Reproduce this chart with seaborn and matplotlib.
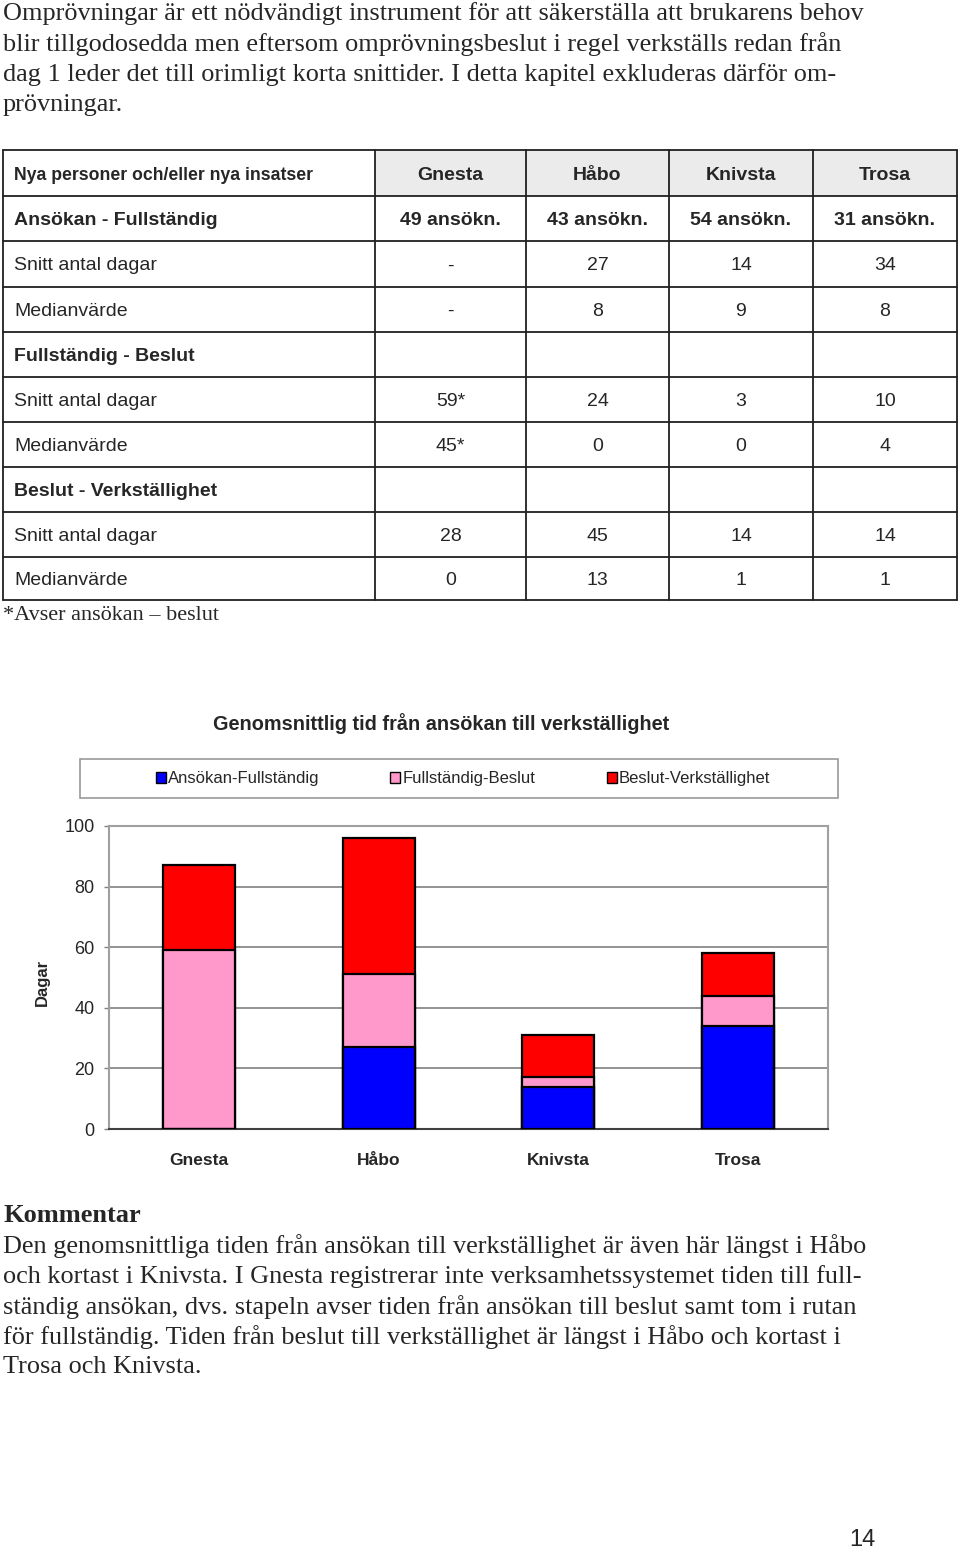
import matplotlib
matplotlib.use('Agg')
import matplotlib.pyplot as plt
import seaborn as sns
import pandas as pd
from matplotlib.patches import Rectangle, Patch

# ── Data ──────────────────────────────────────────────────────────────────────
kommuner   = ["Gnesta", "Håbo", "Knivsta", "Trosa"]
ans_full   = [0, 27, 14, 34]     # Ansökan-Fullständig (snitt dagar)
full_besl  = [59, 24, 3, 10]    # Fullständig-Beslut
besl_verk  = [28, 45, 14, 14]   # Beslut-Verkställighet
series     = ["Ansökan-Fullständig", "Fullständig-Beslut", "Beslut-Verkställighet"]
colors     = ["#0000ff", "#ff99cc", "#ff0000"]
yticks     = [0, 20, 40, 60, 80, 100]

table_header = ["Nya personer och/eller nya insatser", "Gnesta", "Håbo", "Knivsta", "Trosa"]
table_rows = [
    ("Ansökan - Fullständig", ["49 ansökn.", "43 ansökn.", "54 ansökn.", "31 ansökn."], True),
    ("Snitt antal dagar",     ["-", "27", "14", "34"], False),
    ("Medianvärde",           ["-", "8", "9", "8"], False),
    ("Fullständig - Beslut",  ["", "", "", ""], True),
    ("Snitt antal dagar",     ["59*", "24", "3", "10"], False),
    ("Medianvärde",           ["45*", "0", "0", "4"], False),
    ("Beslut - Verkställighet", ["", "", "", ""], True),
    ("Snitt antal dagar",     ["28", "45", "14", "14"], False),
    ("Medianvärde",           ["0", "13", "1", "1"], False),
]

intro_lines = [
    "Omprövningar är ett nödvändigt instrument för att säkerställa att brukarens behov",
    "blir tillgodosedda men eftersom omprövningsbeslut i regel verkställs redan från",
    "dag 1 leder det till orimligt korta snittider. I detta kapitel exkluderas därför om-",
    "prövningar.",
]
comment_lines = [
    "Den genomsnittliga tiden från ansökan till verkställighet är även här längst i Håbo",
    "och kortast i Knivsta. I Gnesta registrerar inte verksamhetssystemet tiden till full-",
    "ständig ansökan, dvs. stapeln avser tiden från ansökan till beslut samt tom i rutan",
    "för fullständig. Tiden från beslut till verkställighet är längst i Håbo och kortast i",
    "Trosa och Knivsta.",
]

# ── Page ──────────────────────────────────────────────────────────────────────
sns.set_style("white")
W, H = 960, 1552
fig = plt.figure(figsize=(W / 100, H / 100), dpi=100)
fig.patch.set_facecolor("white")

page = fig.add_axes([0, 0, 1, 1])
page.set_xlim(0, W)
page.set_ylim(H, 0)
page.axis("off")

SERIF = "Liberation Serif"
SANS = "Liberation Sans"
BODY = 18.9

for i, line in enumerate(intro_lines):
    page.text(3, 14 + i * 30.3, line, family=SERIF, fontsize=BODY, va="center", ha="left")

# ── Table ─────────────────────────────────────────────────────────────────────
col_x = [3, 375, 526, 669, 813, 957]
row_y = [150, 196, 241, 287, 332, 377, 422, 467, 512, 557, 600]

for c in range(1, 5):
    page.add_patch(Rectangle((col_x[c], row_y[0]), col_x[c + 1] - col_x[c],
                             row_y[1] - row_y[0], facecolor="#ebebeb", edgecolor="none"))
for y in row_y:
    page.plot([col_x[0], col_x[-1]], [y, y], color="#202020", lw=1.3)
for x in col_x:
    page.plot([x, x], [row_y[0], row_y[-1]], color="#202020", lw=1.3)

def cell_center(c, r):
    return (col_x[c] + col_x[c + 1]) / 2, (row_y[r] + row_y[r + 1]) / 2 + 2

_, yc = cell_center(0, 0)
page.text(14, yc, table_header[0], family=SANS, fontsize=12.7, weight="bold", va="center")
for c in range(1, 5):
    xc, yc = cell_center(c, 0)
    page.text(xc, yc, table_header[c], family=SANS, fontsize=14, weight="bold",
              va="center", ha="center")

for r, (label, vals, bold) in enumerate(table_rows, start=1):
    wt = "bold" if bold else "normal"
    _, yc = cell_center(0, r)
    page.text(14, yc, label, family=SANS, fontsize=14, weight=wt, va="center")
    for c, v in enumerate(vals, start=1):
        xc, yc = cell_center(c, r)
        page.text(xc, yc, v, family=SANS, fontsize=14, weight=wt, va="center", ha="center")

page.text(3, 615, "*Avser ansökan – beslut", family=SERIF, fontsize=16, va="center")

# ── Chart ─────────────────────────────────────────────────────────────────────
page.text(441, 724, "Genomsnittlig tid från ansökan till verkställighet", family=SANS,
          fontsize=14.3, weight="bold", ha="center", va="center")
page.add_patch(Rectangle((80, 759), 758, 39, facecolor="white", edgecolor="#999999", lw=1.2))

ax = fig.add_axes([109 / W, 1 - 1129 / H, 719 / W, 303 / H])

df = pd.DataFrame({
    "kommun": kommuner,
    "s1": ans_full,
    "s2": [a + b for a, b in zip(ans_full, full_besl)],
    "s3": [a + b + c for a, b, c in zip(ans_full, full_besl, besl_verk)],
})
for col, colr in zip(["s3", "s2", "s1"], colors[::-1]):
    sns.barplot(data=df, x="kommun", y=col, color=colr, width=0.4, ax=ax,
                edgecolor="black", linewidth=1.6, saturation=1, zorder=3)

ax.set_xlim(-0.5, 3.5)
ax.set_ylim(0, 100)
ax.set_yticks(yticks)
ax.set_yticklabels([str(t) for t in yticks], family=SANS, fontsize=13)
ax.set_xticks(range(4))
ax.set_xticklabels(kommuner, family=SANS, fontsize=12.5, weight="bold")
ax.set_xticks([-0.5, 0.5, 1.5, 2.5, 3.5], minor=True)
ax.tick_params(axis="x", which="major", length=0, pad=17)
ax.tick_params(axis="x", which="minor", length=4, color="#808080", width=1)
ax.tick_params(axis="y", length=3.5, color="#808080", width=1, pad=7, left=True)
ax.grid(axis="y", color="#808080", lw=1.2, zorder=0)
ax.set_axisbelow(True)
ax.set_xlabel("")
ax.set_ylabel("")
for s in ["top", "right", "left"]:
    ax.spines[s].set_color("#a0a0a0")
    ax.spines[s].set_linewidth(1.5)
ax.spines["bottom"].set_color("#404040")
ax.spines["bottom"].set_linewidth(1.5)

page.text(42, 982, "Dagar", family=SANS, fontsize=12, weight="bold", rotation=90,
          ha="center", va="center")

handles = [Patch(facecolor=c, edgecolor="black", lw=1) for c in colors]
fig.legend(handles, series, loc="center", bbox_to_anchor=(463 / W, 1 - 779 / H),
           ncol=3, frameon=False, handlelength=0.6, handleheight=0.6,
           handletextpad=0.15, columnspacing=4.25, prop={"family": SANS, "size": 12})

# ── Comment ───────────────────────────────────────────────────────────────────
page.text(3, 1215, "Kommentar", family=SERIF, fontsize=19, weight="bold", va="center")
for i, line in enumerate(comment_lines):
    page.text(3, 1246 + i * 30.3, line, family=SERIF, fontsize=BODY, va="center")

page.text(862, 1540, "14", family=SANS, fontsize=17, ha="center", va="center")

plt.savefig("out.png", dpi=100, facecolor="white")
